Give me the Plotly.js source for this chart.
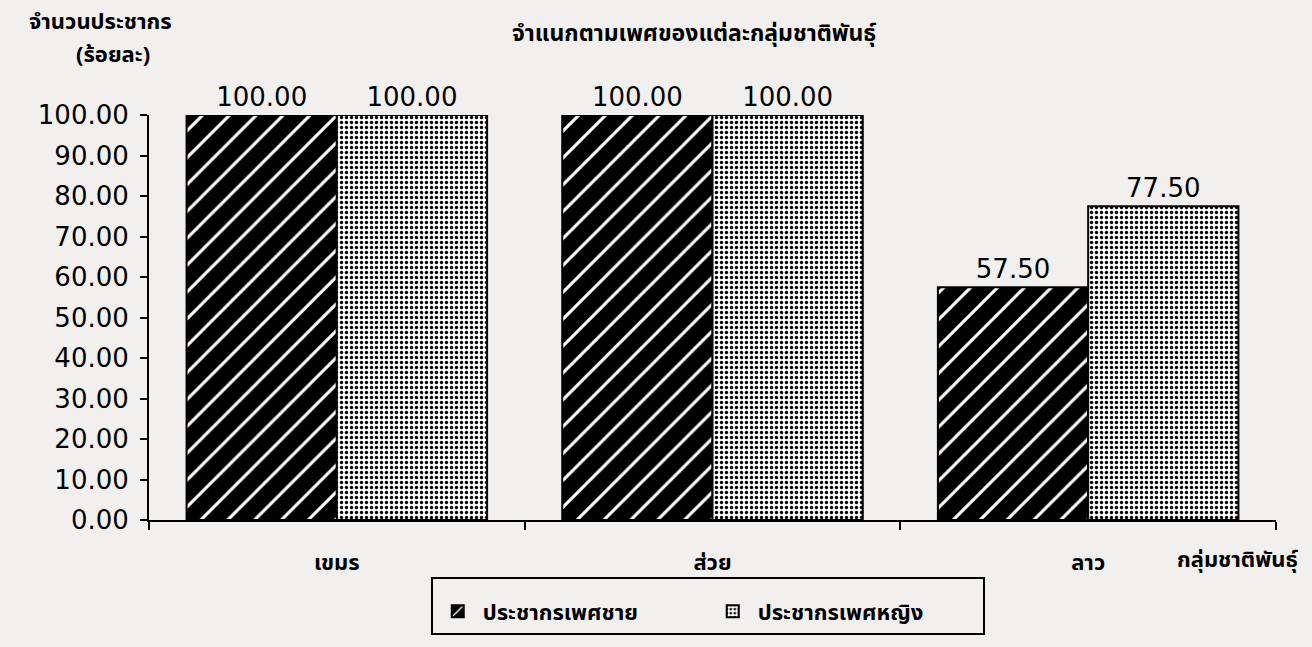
<!DOCTYPE html>
<html>
<head>
<meta charset="utf-8">
<script src="https://cdn.plot.ly/plotly-3.0.1.min.js"></script>
<style>
  html, body { margin: 0; padding: 0; background: #f1f0ee; }
  #chart { width: 1312px; height: 647px; }
</style>
</head>
<body>
<div id="chart"></div>
<script>
// Ethnic groups on the category axis
const groups = ['เขมร', 'ส่วย', 'ลาว'];
// Percentage of population by sex
const maleValues = [100.00, 100.00, 57.50];
const femaleValues = [100.00, 100.00, 77.50];
const seriesNames = ['ประชากรเพศชาย', 'ประชากรเพศหญิง'];
const yTicks = [0, 10, 20, 30, 40, 50, 60, 70, 80, 90, 100];

const thaiFont = '"Noto Sans Thai", "Noto Sans", "DejaVu Sans", sans-serif';
const numFont = '"DejaVu Sans", sans-serif';

const male = {
  type: 'bar',
  name: seriesNames[0],
  x: groups,
  y: maleValues,
  marker: {
    color: '#000',
    line: { color: '#000', width: 2 },
    pattern: { shape: '/', bgcolor: '#000', fgcolor: '#fff', size: 19, solidity: 0.16, fillmode: 'replace' }
  },
  texttemplate: '%{y:.2f}',
  textposition: 'outside',
  cliponaxis: false,
  textfont: { family: numFont, size: 26, color: '#000' },
  hoverinfo: 'skip'
};

const female = {
  type: 'bar',
  name: seriesNames[1],
  x: groups,
  y: femaleValues,
  marker: {
    color: '#fff',
    line: { color: '#000', width: 2 },
    pattern: { shape: '.', bgcolor: '#fff', fgcolor: '#000', size: 5, solidity: 0.35, fillmode: 'replace' }
  },
  texttemplate: '%{y:.2f}',
  textposition: 'outside',
  cliponaxis: false,
  textfont: { family: numFont, size: 26, color: '#000' },
  hoverinfo: 'skip'
};

const layout = {
  width: 1312,
  height: 647,
  paper_bgcolor: '#f1f0ee',
  plot_bgcolor: 'rgba(0,0,0,0)',
  margin: { l: 149, r: 36, t: 115, b: 125 },
  barmode: 'group',
  bargap: 0.2,
  bargroupgap: 0,
  showlegend: true,
  legend: {
    orientation: 'h',
    x: 0.25, xanchor: 'left',
    y: -0.14, yanchor: 'top',
    bgcolor: 'rgba(0,0,0,0)',
    bordercolor: '#000',
    borderwidth: 2,
    font: { family: thaiFont, size: 22, color: '#000', weight: 'bold' },
    title: { text: '\u00a0', side: 'top', font: { family: thaiFont, size: 9 } },
    entrywidth: 220,
    itemwidth: 40
  },
  xaxis: {
    type: 'category',
    tickson: 'boundaries',
    ticks: 'outside',
    ticklen: 8,
    tickwidth: 2,
    tickcolor: '#000',
    showline: true,
    linecolor: '#000',
    linewidth: 2,
    showgrid: false,
    zeroline: false,
    ticklabelstandoff: 22,
    tickfont: { family: thaiFont, size: 22, color: '#000', weight: 'bold' }
  },
  yaxis: {
    range: [0, 100],
    tickvals: yTicks,
    tickformat: '.2f',
    ticks: 'outside',
    ticklen: 7,
    tickwidth: 2,
    tickcolor: '#000',
    showline: true,
    linecolor: '#000',
    linewidth: 2,
    showgrid: false,
    zeroline: false,
    ticklabelstandoff: 6,
    tickfont: { family: numFont, size: 26, color: '#000' }
  },
  annotations: [
    {
      text: '<b>จำแนกตามเพศของแต่ละกลุ่มชาติพันธุ์</b>',
      xref: 'paper', yref: 'paper', x: 0.484, y: 1.2, xanchor: 'center', yanchor: 'middle',
      showarrow: false, font: { family: thaiFont, size: 23, color: '#000' }
    },
    {
      text: '<b>จำนวนประชากร</b>',
      xref: 'paper', yref: 'paper', x: -0.043, y: 1.228, xanchor: 'center', yanchor: 'middle',
      showarrow: false, font: { family: thaiFont, size: 22, color: '#000' }
    },
    {
      text: '<b>(ร้อยละ)</b>',
      xref: 'paper', yref: 'paper', x: -0.032, y: 1.147, xanchor: 'center', yanchor: 'middle',
      showarrow: false, font: { family: thaiFont, size: 22, color: '#000' }
    },
    {
      text: '<b>กลุ่มชาติพันธุ์</b>',
      xref: 'paper', yref: 'paper', x: 1.021, y: -0.1, xanchor: 'right', yanchor: 'middle',
      showarrow: false, font: { family: thaiFont, size: 22, color: '#000' }
    }
  ]
};

Plotly.newPlot('chart', [male, female], layout, { displayModeBar: false, staticPlot: true });
</script>
</body>
</html>
